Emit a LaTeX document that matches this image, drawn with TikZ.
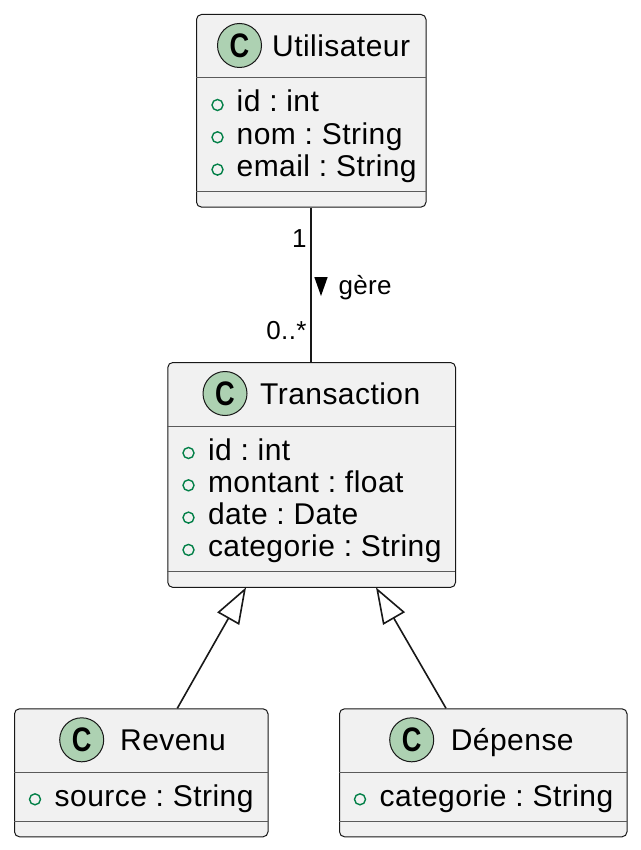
\documentclass[tikz,border=0pt]{standalone}
\usepackage{fontspec}
\setmainfont{Liberation Sans}[LetterSpace=1.5]
\usetikzlibrary{arrows.meta}
\definecolor{boxfill}{HTML}{F1F1F1}
\definecolor{boxdraw}{HTML}{181818}
\definecolor{circfill}{HTML}{ADD1B2}
\definecolor{visgreen}{HTML}{038048}
\definecolor{sepcol}{HTML}{5A5A5A}
\begin{document}
\frenchspacing
\begin{tikzpicture}[x=1pt,y=-1pt,
 classbox/.style={rectangle, draw=boxdraw, fill=boxfill, line width=1pt, rounded corners=5pt, inner sep=0pt, anchor=north west},
 sepline/.style={draw=sepcol, line width=1pt},
 ccircle/.style={circle, draw=boxdraw, fill=circfill, line width=1pt, minimum size=44pt, inner sep=0pt, font=\fontsize{34}{34}\selectfont\bfseries},
 titletext/.style={anchor=base west, inner sep=0pt, font=\fontsize{30}{36}\selectfont},
 attrtext/.style={anchor=base west, inner sep=0pt, font=\fontsize{30}{36}\selectfont},
 vis/.style={circle, draw=visgreen, line width=1.4pt, minimum size=11pt, inner sep=0pt},
 labeltext/.style={inner sep=0pt, font=\fontsize{26}{30}\selectfont},
 link/.style={draw=boxdraw, line width=1.6pt},
 inherit/.style={link, -{Triangle[open, length=36pt, width=25pt]}}
]
\useasboundingbox[fill=white] (0,0) rectangle (640,850);

% ---------- Utilisateur ----------
\node[classbox, minimum width=229.5pt, minimum height=192.6pt] (util) at (196,14) {};
\draw[sepline] (196,78) -- (425.5,78);
\draw[sepline] (196,191.6) -- (425.5,191.6);
\node[ccircle] (utilC) at (239.5,45.5) {\scalebox{0.8}[1]{C}};
\node[titletext] (utilT) at (272,56.5) {Utilisateur};
\node[vis] (uv1) at (217.5,105) {};
\node[attrtext] (ua1) at (236.5,112) {id : int};
\node[vis] (uv2) at (217.5,137.3) {};
\node[attrtext] (ua2) at (236.5,144.3) {nom : String};
\node[vis] (uv3) at (217.5,169.6) {};
\node[attrtext] (ua3) at (236.5,176.6) {email : String};

% ---------- Transaction ----------
\node[classbox, minimum width=287.7pt, minimum height=224.9pt] (trans) at (167.3,362) {};
\draw[sepline] (167.3,426) -- (455,426);
\draw[sepline] (167.3,571.9) -- (455,571.9);
\node[ccircle] (transC) at (225,393.5) {\scalebox{0.8}[1]{C}};
\node[titletext] (transT) at (260,404.5) {Transaction};
\node[vis] (tv1) at (188.5,453) {};
\node[attrtext] (ta1) at (207.8,460) {id : int};
\node[vis] (tv2) at (188.5,485.3) {};
\node[attrtext] (ta2) at (207.8,492.3) {montant : float};
\node[vis] (tv3) at (188.5,517.6) {};
\node[attrtext] (ta3) at (207.8,524.6) {date : Date};
\node[vis] (tv4) at (188.5,549.9) {};
\node[attrtext] (ta4) at (207.8,556.9) {categorie : String};

% ---------- Revenu ----------
\node[classbox, minimum width=253.5pt, minimum height=128pt] (rev) at (14,708.3) {};
\draw[sepline] (14,772.3) -- (267.5,772.3);
\draw[sepline] (14,821.3) -- (267.5,821.3);
\node[ccircle] (revC) at (81.7,739.8) {\scalebox{0.8}[1]{C}};
\node[titletext] (revT) at (120,750.8) {Revenu};
\node[vis] (rv1) at (35,799.3) {};
\node[attrtext] (ra1) at (54.5,806.3) {source : String};

% ---------- Dépense ----------
\node[classbox, minimum width=287.5pt, minimum height=128pt] (dep) at (339,708.3) {};
\draw[sepline] (339,772.3) -- (626.5,772.3);
\draw[sepline] (339,821.3) -- (626.5,821.3);
\node[ccircle] (depC) at (411.7,739.8) {\scalebox{0.8}[1]{C}};
\node[titletext] (depT) at (450.7,750.8) {Dépense};
\node[vis] (dv1) at (360,799.3) {};
\node[attrtext] (da1) at (379.5,806.3) {categorie : String};

% ---------- association ----------
\draw[link] (util.south) -- (util.south |- trans.north);
\node[labeltext, anchor=base east] (mult1) at (306.7,247.3) {1};
\node[labeltext, anchor=base east] (mult2) at (306.7,339.3) {0..*};
\fill[black] (314.3,277) -- (327.7,277) -- (321,296) -- cycle;
\node[labeltext, anchor=base west] (gere) at (338.3,294) {gère};

% ---------- inheritance ----------
\coordinate (revIn) at (177.3,708.3);
\coordinate (depIn) at (446,708.3);
\coordinate (transL) at (246,587.4);
\coordinate (transR) at (376,587.4);
\draw[inherit] (revIn) -- (transL);
\draw[inherit] (depIn) -- (transR);
\end{tikzpicture}
\end{document}
